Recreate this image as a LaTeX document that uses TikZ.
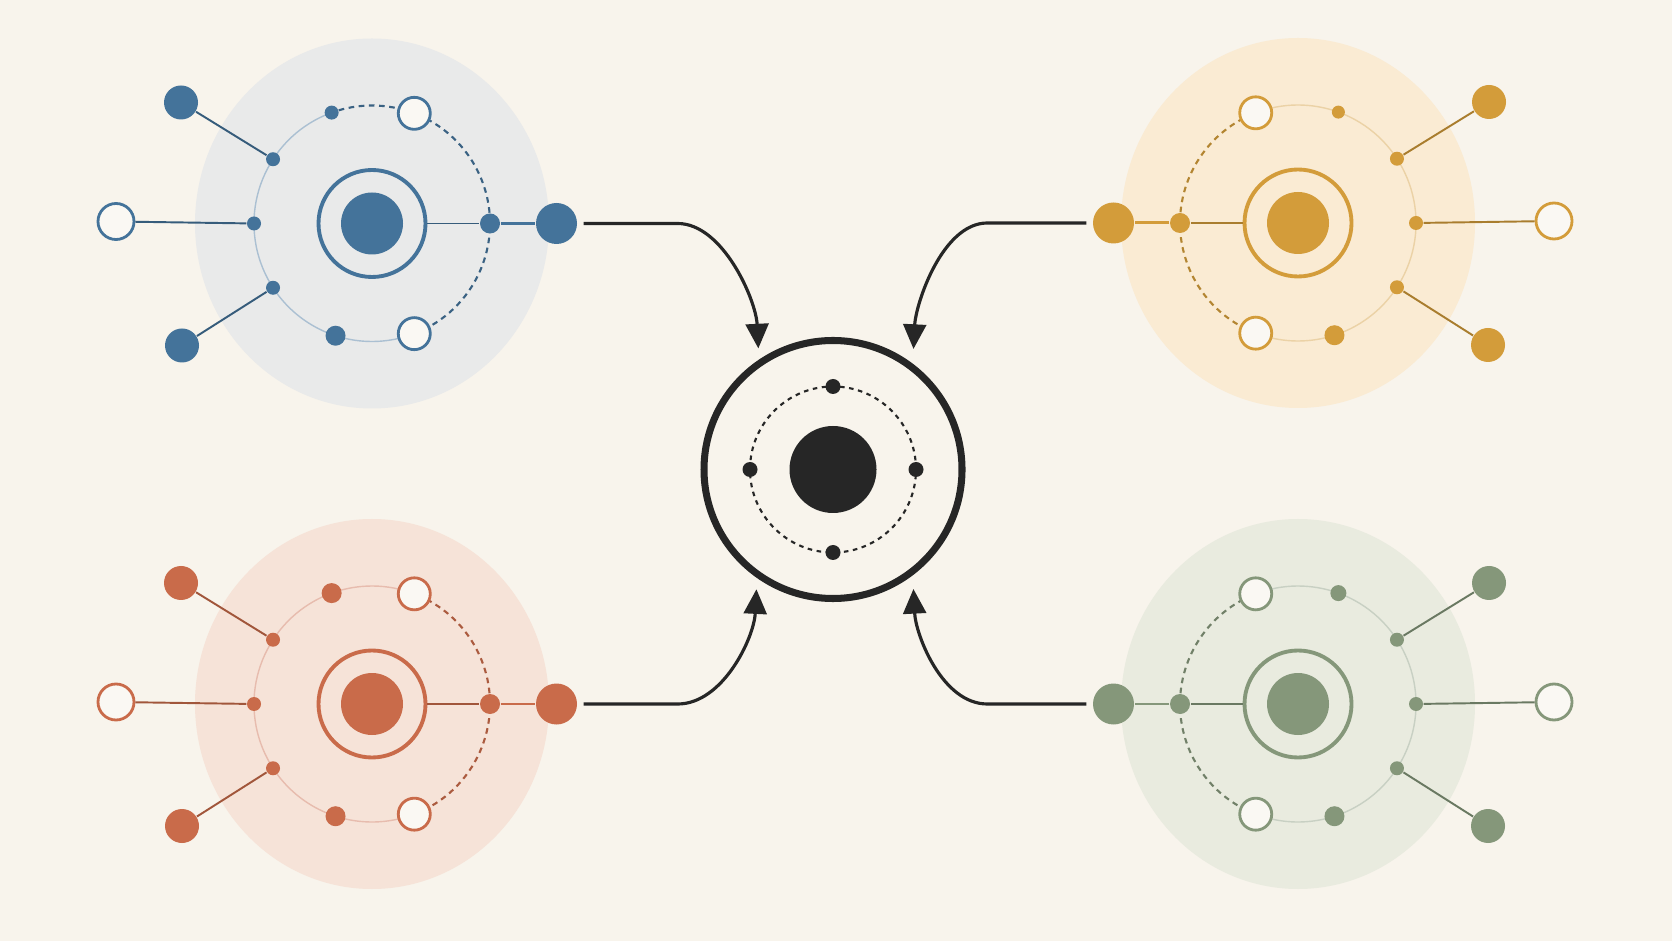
\documentclass[tikz,border=0pt]{standalone}
\usepackage{tikz}
\usetikzlibrary{calc,arrows.meta}
\definecolor{paper}{HTML}{F8F4EC}
\definecolor{paperlight}{HTML}{FAF8F3}
\definecolor{ink}{HTML}{262626}
\definecolor{cblue}{HTML}{44739A}
\definecolor{cbluebg}{HTML}{E9EAEA}
\definecolor{cred}{HTML}{C96B4A}
\definecolor{credbg}{HTML}{F6E3D8}
\definecolor{corange}{HTML}{D39C3A}
\definecolor{corangebg}{HTML}{FAEBD3}
\definecolor{cgreen}{HTML}{85977A}
\definecolor{cgreenbg}{HTML}{E9EBDF}
\tikzset{
    halo/.style={fill=c#1bg},
    ring/.style={circle,draw=c#1,line width=1.1pt,minimum size=1.07cm,inner sep=0pt},
    core/.style={circle,fill=c#1,minimum size=0.62cm,inner sep=0pt},
    dot/.style={circle,fill=c#1,minimum size=0.14cm,inner sep=0pt},
    middot/.style={dot=#1,minimum size=0.20cm},
    hollow/.style={circle,draw=c#1,line width=0.8pt,fill=paperlight,minimum size=0.32cm,inner sep=0pt},
    leaf/.style={circle,fill=c#1,minimum size=0.34cm,inner sep=0pt},
    bigleaf/.style={leaf=#1,minimum size=0.41cm},
    spoke/.style={draw=c#1!80!black,line width=0.55pt},
    link/.style={draw=c#1,line width=0.85pt},
    orbdash/.style={draw=c#1!85!black,line width=0.6pt,dash pattern=on 1.6pt off 1.3pt},
    orbsolid/.style={draw=c#1!45!white,line width=0.4pt},
    hubring/.style={circle,draw=ink,line width=2pt,minimum size=2.58cm,inner sep=0pt},
    hubcore/.style={circle,fill=ink,minimum size=0.87cm,inner sep=0pt},
    hubdot/.style={circle,fill=ink,minimum size=0.15cm,inner sep=0pt},
    hubdash/.style={ink,line width=0.6pt,dash pattern=on 1.3pt off 1.3pt},
    feed/.style={ink,line width=0.9pt,-{Triangle[width=6.5pt,length=7pt]},shorten <=1.7pt}
}
\begin{document}
\begin{tikzpicture}
\fill[paper](0,0)rectangle(16.72,9.41);
\useasboundingbox(0,0)rectangle(16.72,9.41);

% satellites
\foreach \n/\cx/\cy/\m/\ts/\tst in {blue/3.72/7.175/1/0.14/orbdash, red/3.72/2.37/1/0.20/orbsolid, orange/12.98/7.18/-1/0.13/orbsolid, green/12.98/2.37/-1/0.16/orbsolid}
{
\begin{scope}[shift={(\cx,\cy)},xscale=\m]
    \fill[halo=\n](0,0)ellipse[x radius=1.77,y radius=1.85];
    \draw[orbdash=\n](-69:1.18)arc[start angle=-69,end angle=69,radius=1.18];
    \draw[\tst=\n](69:1.18)arc[start angle=69,end angle=110,radius=1.18];
    \draw[orbsolid=\n](110:1.18)arc[start angle=110,end angle=291,radius=1.18];
    \node[ring=\n](\n-ring)at(0,0){};
    \node[core=\n](\n-core)at(0,0){};
    \node[middot=\n](\n-in)at(0:1.18){};
    \node[hollow=\n](\n-ot)at(69:1.18){};
    \node[dot=\n,minimum size=\ts cm](\n-t)at(110:1.18){};
    \node[dot=\n](\n-a)at(147:1.18){};
    \node[dot=\n](\n-b)at(180:1.18){};
    \node[dot=\n](\n-c)at(213:1.18){};
    \node[middot=\n](\n-bt)at(252:1.18){};
    \node[hollow=\n](\n-ob)at(291:1.18){};
    \node[leaf=\n](\n-la)at(-1.91,1.21){};
    \node[hollow=\n,minimum size=0.36cm](\n-lb)at(-2.56,0.02){};
    \node[leaf=\n](\n-lc)at(-1.9,-1.22){};
    \node[bigleaf=\n](\n-big)at(1.845,0){};
    \draw[spoke=\n](\n-a)--(\n-la);
    \draw[spoke=\n](\n-b)--(\n-lb);
    \draw[spoke=\n](\n-c)--(\n-lc);
    \draw[spoke=\n](\n-ring)--(\n-in);
    \draw[link=\n](\n-in)--(\n-big);
\end{scope}
}

% hub
\node[hubring](hub)at(8.33,4.715){};
\node[hubcore](hub-core)at(hub){};
\draw[hubdash](hub)circle[radius=0.83];
\foreach \a in {0,90,180,270}
    \node[hubdot](hub-p\a)at($(hub)+(\a:0.83)$){};

\draw[feed,shorten >=3.2pt](blue-big.east)--++(1.0,0)..controls +(0.45,0) and +(-0.03,0.6)..(hub.124);
\draw[feed,shorten >=4.2pt](orange-big.west)--++(-1.05,0)..controls +(-0.45,0) and +(0.03,0.6)..(hub.53);
\draw[feed,shorten >=3.2pt](red-big.east)--++(1.0,0)..controls +(0.45,0) and +(-0.03,-0.6)..(hub.235);
\draw[feed,shorten >=3.9pt](green-big.west)--++(-1.05,0)..controls +(-0.45,0) and +(0.03,-0.6)..(hub.307);
\end{tikzpicture}
\end{document}
